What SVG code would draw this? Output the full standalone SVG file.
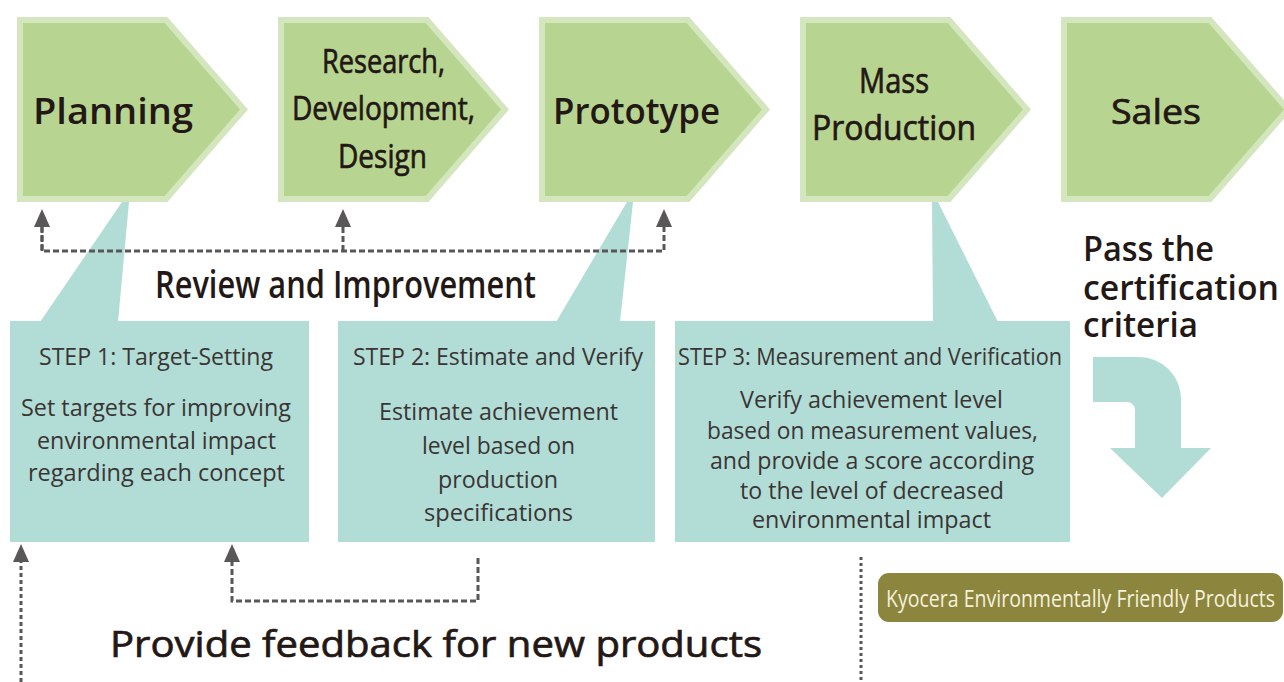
<svg xmlns="http://www.w3.org/2000/svg" width="1284" height="682" viewBox="0 0 1284 682">
<style>
.stage{fill:#b7d590;stroke:#d3e6bd;stroke-width:6;stroke-linejoin:miter;stroke-miterlimit:10}
.teal{fill:#b2ddd6}
.h{font-family:"Open Sans","Noto Sans","Liberation Sans",sans-serif;fill:#231815;font-weight:600}
.m{font-family:"Open Sans","Noto Sans","Liberation Sans",sans-serif;fill:#231815;font-weight:400;stroke:#231815;stroke-width:0.7}
.s{font-family:"Open Sans","Noto Sans","Liberation Sans",sans-serif;fill:#3a3534;font-size:24px}
.dash{fill:none;stroke:#595757;stroke-width:3}
</style>
<defs>
<path id="pent" d="M3,3 H149 L227,92.5 L149,182 H3 Z"/>
<marker id="ah" markerUnits="userSpaceOnUse" markerWidth="20" markerHeight="18" refX="1" refY="8" orient="auto" overflow="visible">
<path d="M0,0 L18,8 L0,16 Z" fill="#595757"/>
</marker>
</defs>

<g id="planning">
<use href="#pent" class="stage" x="17" y="17"/>
<text class="h" x="33" y="124" font-size="36" textLength="160" lengthAdjust="spacingAndGlyphs">Planning</text>
</g>
<g id="research">
<use href="#pent" class="stage" x="278" y="17"/>
<text class="m" x="322" y="73" font-size="33" textLength="123" lengthAdjust="spacingAndGlyphs">Research,</text>
<text class="m" x="292" y="120" font-size="33" textLength="183" lengthAdjust="spacingAndGlyphs">Development,</text>
<text class="m" x="338" y="168" font-size="33" textLength="89" lengthAdjust="spacingAndGlyphs">Design</text>
</g>
<g id="prototype">
<use href="#pent" class="stage" x="539" y="17"/>
<text class="h" x="553" y="124" font-size="36" textLength="167" lengthAdjust="spacingAndGlyphs">Prototype</text>
</g>
<g id="mass-production">
<use href="#pent" class="stage" x="800" y="17"/>
<text class="m" x="859" y="93" font-size="35" textLength="70" lengthAdjust="spacingAndGlyphs">Mass</text>
<text class="m" x="812" y="140" font-size="35" textLength="164" lengthAdjust="spacingAndGlyphs">Production</text>
</g>
<g id="sales">
<use href="#pent" class="stage" x="1061" y="17"/>
<text class="m" x="1111" y="124" font-size="35" textLength="90" lengthAdjust="spacingAndGlyphs">Sales</text>
</g>

<g id="step1">
<polygon class="teal" points="122,202 129,202 118,322 40,322"/>
<rect class="teal" x="10" y="321" width="299" height="221"/>
<text class="s" x="39" y="365" textLength="234" lengthAdjust="spacingAndGlyphs">STEP 1: Target-Setting</text>
<text class="s" x="21" y="416" textLength="270" lengthAdjust="spacingAndGlyphs">Set targets for improving</text>
<text class="s" x="37" y="449" textLength="239" lengthAdjust="spacingAndGlyphs">environmental impact</text>
<text class="s" x="28" y="481" textLength="257" lengthAdjust="spacingAndGlyphs">regarding each concept</text>
</g>
<g id="step2">
<polygon class="teal" points="627,202 633,202 620,322 556,322"/>
<rect class="teal" x="338" y="321" width="317" height="221"/>
<text class="s" x="353" y="365" textLength="290" lengthAdjust="spacingAndGlyphs">STEP 2: Estimate and Verify</text>
<text class="s" x="379" y="420" textLength="239" lengthAdjust="spacingAndGlyphs">Estimate achievement</text>
<text class="s" x="422" y="454" textLength="153" lengthAdjust="spacingAndGlyphs">level based on</text>
<text class="s" x="438" y="488" textLength="120" lengthAdjust="spacingAndGlyphs">production</text>
<text class="s" x="424" y="521" textLength="149" lengthAdjust="spacingAndGlyphs">specifications</text>
</g>
<g id="step3">
<polygon class="teal" points="932,202 938,202 998,322 933,322"/>
<rect class="teal" x="675" y="321" width="395" height="221"/>
<text class="s" x="678" y="365" textLength="384" lengthAdjust="spacingAndGlyphs">STEP 3: Measurement and Verification</text>
<text class="s" x="740" y="408" textLength="263" lengthAdjust="spacingAndGlyphs">Verify achievement level</text>
<text class="s" x="707" y="439" textLength="331" lengthAdjust="spacingAndGlyphs">based on measurement values,</text>
<text class="s" x="710" y="469" textLength="324" lengthAdjust="spacingAndGlyphs">and provide a score according</text>
<text class="s" x="740" y="499" textLength="264" lengthAdjust="spacingAndGlyphs">to the level of decreased</text>
<text class="s" x="752" y="528" textLength="239" lengthAdjust="spacingAndGlyphs">environmental impact</text>
</g>

<g id="certification">
<text class="h" x="1083" y="261" font-size="35" textLength="131" lengthAdjust="spacingAndGlyphs">Pass the</text>
<text class="h" x="1083" y="300" font-size="35" textLength="196" lengthAdjust="spacingAndGlyphs">certification</text>
<text class="h" x="1083" y="337" font-size="35" textLength="115" lengthAdjust="spacingAndGlyphs">criteria</text>
<path class="teal" d="M1093,357 H1139 A42,42 0 0 1 1181,399 V448 H1211 L1162,498 L1110,448 H1135 V410 A8,8 0 0 0 1127,402 H1093 Z"/>
</g>

<g id="kyocera-products">
<rect x="878" y="573" width="405" height="49" rx="11" fill="#8b853d"/>
<text x="886" y="607" font-family="'Open Sans','Noto Sans','Liberation Sans',sans-serif" font-size="24" fill="#f6f1dc" textLength="389" lengthAdjust="spacingAndGlyphs">Kyocera Environmentally Friendly Products</text>
</g>

<g id="connectors">
<path class="dash" stroke-dasharray="6 3" d="M42,226 V251 H664 V226" marker-end="url(#ah)"/>
<path class="dash" stroke-dasharray="6 3" d="M42,251 V226" marker-end="url(#ah)"/>
<path class="dash" stroke-dasharray="6 3" d="M343,251 V226" marker-end="url(#ah)"/>
<path class="dash" stroke-dasharray="6 3" d="M478,558 V601 H232 V561" marker-end="url(#ah)"/>
<path class="dash" stroke-dasharray="4 3" d="M21,682 V561" marker-end="url(#ah)"/>
<path class="dash" stroke-dasharray="3 3" d="M861,557 V682"/>
</g>

<g id="labels">
<text class="h" x="155" y="298" font-size="37" textLength="381" lengthAdjust="spacingAndGlyphs">Review and Improvement</text>
<text class="m" x="110" y="657" font-size="37" textLength="652" lengthAdjust="spacingAndGlyphs">Provide feedback for new products</text>
</g>
</svg>
